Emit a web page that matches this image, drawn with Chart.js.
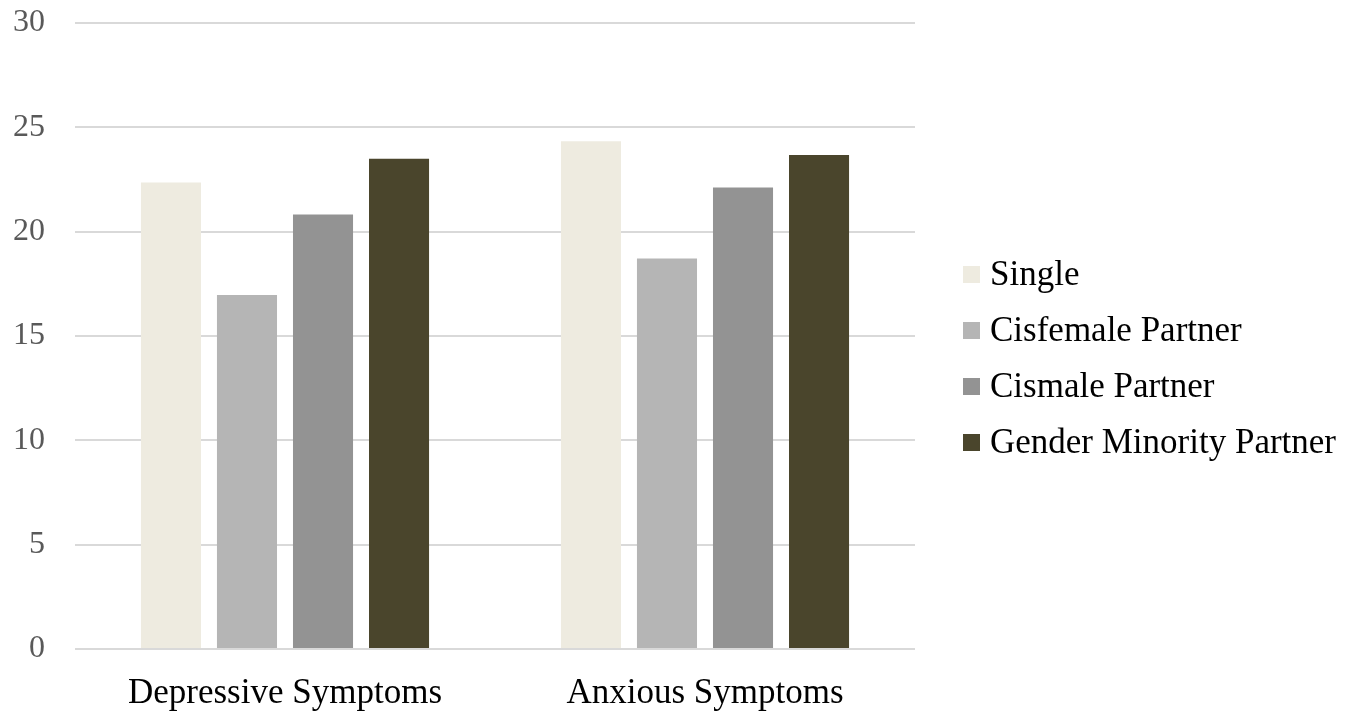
<!DOCTYPE html>
<html>
<head>
<meta charset="utf-8">
<script src="https://cdn.jsdelivr.net/npm/chart.js@4"></script>
<style>
  html, body { margin: 0; padding: 0; background: #ffffff; }
  #wrap { position: relative; width: 1357px; height: 713px; }
  #chart { display: block; }
  #legend { position: absolute; left: 963px; top: 246px; font-family: 'Liberation Serif'; font-size: 35px; color: #000; }
  #legend .item { height: 56px; display: flex; align-items: center; white-space: nowrap; }
  #legend .box { width: 17px; height: 17px; margin-right: 10px; flex: none; }
</style>
</head>
<body>
<div id="wrap">
  <canvas id="chart" width="1357" height="713"></canvas>
  <div id="legend"></div>
</div>
<script>
  // categories and series
  var categories = ["Depressive Symptoms", "Anxious Symptoms"];
  var seriesNames = ["Single", "Cisfemale Partner", "Cismale Partner", "Gender Minority Partner"];
  var single = [22.36, 24.33];
  var cisfemale = [16.96, 18.72];
  var cismale = [20.82, 22.12];
  var genderMinority = [23.49, 23.68];
  var yTicks = [0, 5, 10, 15, 20, 25, 30];

  var barColors = ["#EEEBE0", "#B5B5B5", "#939393", "#4A452C"];
  var seriesValues = [single, cisfemale, cismale, genderMinority];

  var ctx = document.getElementById('chart').getContext('2d');

  var chart = new Chart(ctx, {
    type: 'bar',
    data: {
      labels: categories,
      datasets: seriesNames.map(function (name, i) {
        return {
          label: name,
          data: seriesValues[i],
          backgroundColor: barColors[i],
          borderWidth: 0,
          categoryPercentage: 0.724,
          barPercentage: 0.79
        };
      })
    },
    options: {
      responsive: false,
      animation: false,
      layout: { padding: { top: 0, right: 442, left: 12, bottom: 0 } },
      plugins: {
        tooltip: { enabled: false },
        legend: { display: false }
      },
      scales: {
        x: {
          grid: { display: false, drawTicks: false },
          border: { display: false },
          ticks: {
            color: '#000000',
            padding: 24,
            maxRotation: 0,
            font: { family: 'Liberation Serif', size: 35 }
          },
          afterFit: function (scale) {
            scale.height = 64;
            scale.paddingLeft = 0;
            scale.paddingRight = 0;
          }
        },
        y: {
          min: 0,
          max: 30,
          afterBuildTicks: function (axis) {
            axis.ticks = yTicks.map(function (v) { return { value: v }; });
          },
          grid: { color: '#D9D9D9', lineWidth: 2, drawTicks: false },
          border: { display: false },
          ticks: {
            color: '#595959',
            padding: 30,
            font: { family: 'Liberation Serif', size: 32 }
          },
          afterFit: function (scale) {
            scale.width = 63;
            scale.paddingTop = 23;
            scale.paddingBottom = 0;
          }
        }
      }
    }
  });

  // legend built from the same series
  var legend = document.getElementById('legend');
  chart.data.datasets.forEach(function (ds) {
    var item = document.createElement('div');
    item.className = 'item';
    item.innerHTML = '<span class="box" style="background:' + ds.backgroundColor + '"></span><span>' + ds.label + '</span>';
    legend.appendChild(item);
  });
</script>
</body>
</html>
